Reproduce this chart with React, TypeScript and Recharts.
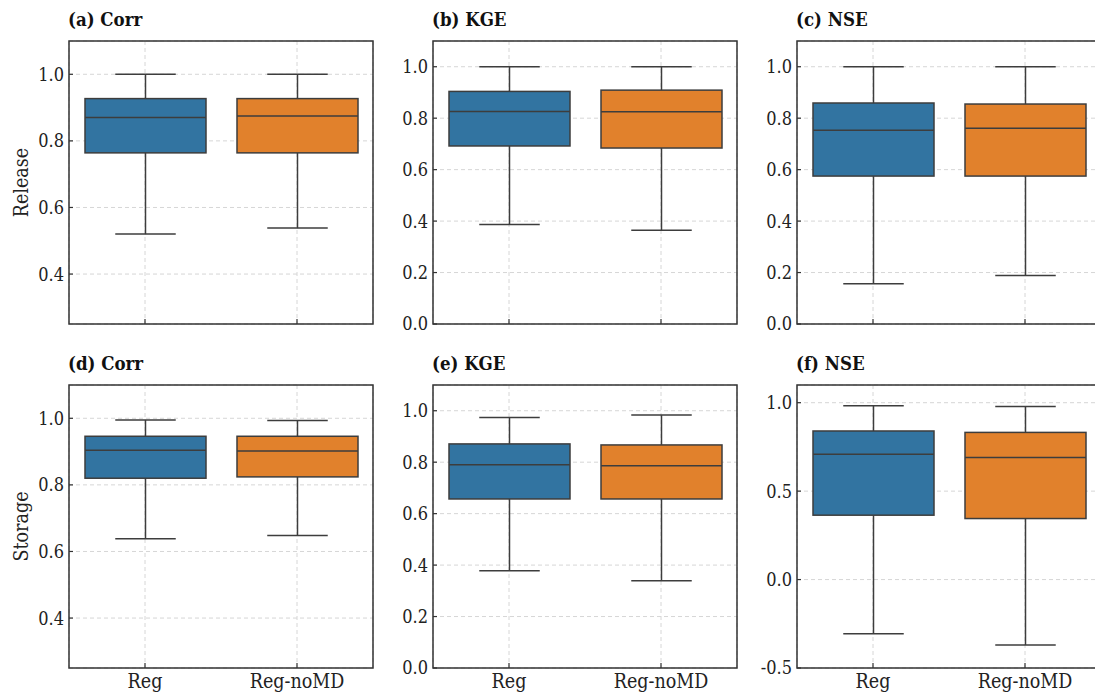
import React from 'react';
import { BarChart, Bar, XAxis, YAxis, CartesianGrid, ReferenceArea } from 'recharts';

const categories = ['Reg', 'Reg-noMD'];

// each entry: [min, q1, median, q3, max]
const releaseCorr = [
  [0.52, 0.764, 0.87, 0.927, 1.0],
  [0.538, 0.764, 0.875, 0.927, 1.0],
];
const releaseKge = [
  [0.387, 0.692, 0.826, 0.904, 1.0],
  [0.364, 0.684, 0.825, 0.909, 1.0],
];
const releaseNse = [
  [0.156, 0.575, 0.753, 0.859, 1.0],
  [0.189, 0.575, 0.761, 0.855, 1.0],
];
const storageCorr = [
  [0.638, 0.82, 0.904, 0.946, 0.995],
  [0.648, 0.824, 0.902, 0.946, 0.993],
];
const storageKge = [
  [0.378, 0.657, 0.79, 0.871, 0.974],
  [0.339, 0.657, 0.786, 0.867, 0.983],
];
const storageNse = [
  [-0.306, 0.364, 0.708, 0.84, 0.983],
  [-0.37, 0.345, 0.69, 0.832, 0.979],
];

const corrTicks = [0.4, 0.6, 0.8, 1.0];
const unitTicks = [0, 0.2, 0.4, 0.6, 0.8, 1.0];
const nseWideTicks = [-0.5, 0, 0.5, 1.0];

const corrDomain = [0.25, 1.1];
const unitDomain = [0, 1.1];
const nseWideDomain = [-0.5, 1.1];

const COLORS = ['#3274A1', '#E1812C'];
const EDGE = '#3d3d3d';
const FONT = "'DejaVu Serif Condensed', 'DejaVu Serif', serif";

const PLOT_W = 304;
const PLOT_H = 283;
const AXIS_W = 69;

const panels = [
  { title: '(a) Corr', stats: releaseCorr, ticks: corrTicks, domain: corrDomain, left: 69, top: 41, labels: false },
  { title: '(b) KGE', stats: releaseKge, ticks: unitTicks, domain: unitDomain, left: 433, top: 41, labels: false },
  { title: '(c) NSE', stats: releaseNse, ticks: unitTicks, domain: unitDomain, left: 797, top: 41, labels: false },
  { title: '(d) Corr', stats: storageCorr, ticks: corrTicks, domain: corrDomain, left: 69, top: 385, labels: true },
  { title: '(e) KGE', stats: storageKge, ticks: unitTicks, domain: unitDomain, left: 433, top: 385, labels: true },
  { title: '(f) NSE', stats: storageNse, ticks: nseWideTicks, domain: nseWideDomain, left: 797, top: 385, labels: true },
];

const rowLabels = [
  { text: 'Release', top: 41 },
  { text: 'Storage', top: 385 },
];

const toRows = (stats: number[][]) =>
  categories.map((name, i) => {
    const [min, q1, median, q3, max] = stats[i];
    return { name, min, q1, median, q3, max, range: [min, max] };
  });

// box drawn inside the whisker range bar, using the bar's own pixel span
const BoxShape = (props: any) => {
  const { x, y, width, height, payload, index } = props;
  const top = Math.min(y, y + height);
  const h = Math.abs(height);
  const { min, q1, median, q3, max } = payload;
  const py = (v: number) => top + ((max - v) / (max - min)) * h;
  const cx = x + width / 2;
  const capHalf = width / 4;
  return (
    <g>
      <line x1={cx} x2={cx} y1={py(max)} y2={py(q3)} stroke={EDGE} strokeWidth={1.5} />
      <line x1={cx} x2={cx} y1={py(q1)} y2={py(min)} stroke={EDGE} strokeWidth={1.5} />
      <line x1={cx - capHalf} x2={cx + capHalf} y1={py(max)} y2={py(max)} stroke={EDGE} strokeWidth={1.5} />
      <line x1={cx - capHalf} x2={cx + capHalf} y1={py(min)} y2={py(min)} stroke={EDGE} strokeWidth={1.5} />
      <rect x={x} y={py(q3)} width={width} height={py(q1) - py(q3)} fill={COLORS[index % COLORS.length]} stroke={EDGE} strokeWidth={1.5} />
      <line x1={x} x2={x + width} y1={py(median)} y2={py(median)} stroke={EDGE} strokeWidth={1.5} />
    </g>
  );
};

const YTick = (props: any) => {
  const { x, y, payload } = props;
  return (
    <g>
      <line x1={x} x2={x + 4} y1={y} y2={y} stroke="#333" strokeWidth={1.2} />
      <text x={x - 5} y={y} dy="0.36em" textAnchor="end" fontSize={18} style={{ fontFamily: FONT }} fill="#222">
        {Number(payload.value).toFixed(1)}
      </text>
    </g>
  );
};

const XTick = (props: any) => {
  const { x, y, payload, showLabel } = props;
  return (
    <g>
      <line x1={x} x2={x} y1={y} y2={y - 5} stroke="#333" strokeWidth={1.2} />
      {showLabel && (
        <text x={x} y={y + 20} textAnchor="middle" fontSize={19.5} style={{ fontFamily: FONT }} fill="#222">
          {payload.value}
        </text>
      )}
    </g>
  );
};

const Panel = ({ panel }: { panel: any }) => {
  const data = toRows(panel.stats);
  const [lo, hi] = panel.domain;
  return (
    <div style={{ position: 'absolute', left: panel.left - AXIS_W, top: panel.top - 41 }}>
      <BarChart width={AXIS_W + PLOT_W + 10} height={41 + PLOT_H + 26} data={data} margin={{ top: 41, right: 10, bottom: 0, left: 0 }}>
        <CartesianGrid strokeDasharray="4 3" stroke="#d6d6d6" strokeWidth={1} />
        <XAxis dataKey="name" height={26} axisLine={false} tickLine={false} tickSize={0} tickMargin={0} interval={0} tick={<XTick showLabel={panel.labels} />} />
        <YAxis type="number" domain={panel.domain} ticks={panel.ticks} width={AXIS_W} axisLine={false} tickLine={false} tickSize={0} tickMargin={0} tick={<YTick />} />
        <Bar dataKey="range" barSize={121} shape={(p: any) => <BoxShape {...p} />} isAnimationActive={false} />
        <ReferenceArea y1={lo} y2={hi} fill="none" stroke="#333" strokeWidth={1.5} ifOverflow="visible" />
      </BarChart>
    </div>
  );
};

const App = () => {
  return (
    <div style={{ position: 'absolute', left: 0, top: 0, width: 1095, height: 694, overflow: 'hidden', background: '#fff' }}>
      {panels.map((p) => (
        <Panel key={p.title} panel={p} />
      ))}
      <svg width={1095} height={694} style={{ position: 'absolute', left: 0, top: 0, pointerEvents: 'none' }}>
        {panels.map((p) => (
          <text key={p.title} x={p.left - 1} y={p.top - 15} fontSize={18.5} fontWeight="bold" style={{ fontFamily: FONT }} fill="#111">
            {p.title}
          </text>
        ))}
        {rowLabels.map((r) => (
          <text
            key={r.text}
            x={21}
            y={r.top + PLOT_H / 2}
            transform={`rotate(-90, 21, ${r.top + PLOT_H / 2})`}
            textAnchor="middle"
            dominantBaseline="central"
            fontSize={19.5}
            style={{ fontFamily: FONT }}
            fill="#222"
          >
            {r.text}
          </text>
        ))}
      </svg>
    </div>
  );
};

export default App;
